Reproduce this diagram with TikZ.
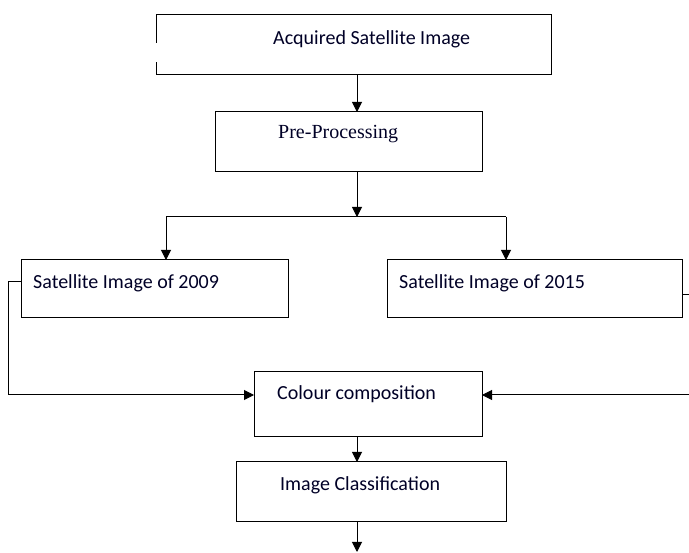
\documentclass[tikz,border=0pt]{standalone}
\usepackage{fontspec}
\setmainfont{Carlito}
\newfontfamily\timesf{Liberation Serif}
\usetikzlibrary{arrows.meta,calc}
\begin{document}
\begin{tikzpicture}[x=1pt,y=-1pt,
  box/.style={draw=black, line width=1pt, rectangle, inner sep=0pt, outer sep=0pt},
  lbl/.style={anchor=west, inner sep=0pt, text=black!85!blue, font=\fontsize{20}{24}\selectfont},
  line/.style={draw=black, line width=1pt},
  arr/.style={line, -{Triangle[length=10pt,width=10pt]}}]
\useasboundingbox (0,0) rectangle (689,553);
% boxes
\node[inner sep=0pt, outer sep=0pt, minimum width=395pt, minimum height=60pt] (acq) at (353.5,45) {};
\draw[line] ($(acq.north west)+(0,28)$) -- (acq.north west) -- (acq.north east) -- (acq.south east) -- (acq.south west) -- ($(acq.south west)+(0,-13)$);
\node[box, minimum width=267pt, minimum height=60pt] (pre) at (348.5,142) {};
\node[box, minimum width=267pt, minimum height=58pt] (b09) at (154.5,289) {};
\node[box, minimum width=295pt, minimum height=58pt] (b15) at (534.5,289) {};
\node[box, minimum width=228pt, minimum height=65pt] (col) at (368,404.5) {};
\node[box, minimum width=270pt, minimum height=60pt] (cls) at (371,492) {};
% labels
\node[lbl] (tacq) at (273,39) {Acquired Satellite Image};
\node[lbl, font=\timesf\fontsize{20}{24}\selectfont] (tpre) at (278,134) {Pre-Processing};
\node[lbl] (t09) at (33,283) {Satellite Image of 2009};
\node[lbl] (t15) at (399,283) {Satellite Image of 2015};
\node[lbl] (tcol) at (277,394) {Colour composition};
\node[lbl] (tcls) at (280,485) {Image Classification};
% helper coordinates
\coordinate (xm) at (357,0);
\coordinate (bl) at (166,217);
\coordinate (br) at (506,217);
\coordinate (bm) at (357,217);
\coordinate (l1) at (8,282);
\coordinate (l2) at (8,395);
\coordinate (r1) at (689,295);
\coordinate (r2) at (689,395);
\coordinate (yin) at (0,395);
\coordinate (bot) at (357,552);
% connectors
\draw[arr] (acq.south -| xm) -- (pre.north -| xm);
\draw[arr] (pre.south -| xm) -- (bm);
\draw[line] (bl) -- (br);
\draw[arr] (bl) -- (b09.north -| bl);
\draw[arr] (br) -- (b15.north -| br);
\draw[arr] (b09.west |- l1) -- (l1) -- (l2) -- (col.west |- yin);
\draw[line] (b15.east |- r1) -- (r1);
\draw[arr] (r2) -- (col.east |- yin);
\draw[arr] (col.south -| xm) -- (cls.north -| xm);
\draw[arr] (cls.south -| xm) -- (bot);
\end{tikzpicture}
\end{document}
